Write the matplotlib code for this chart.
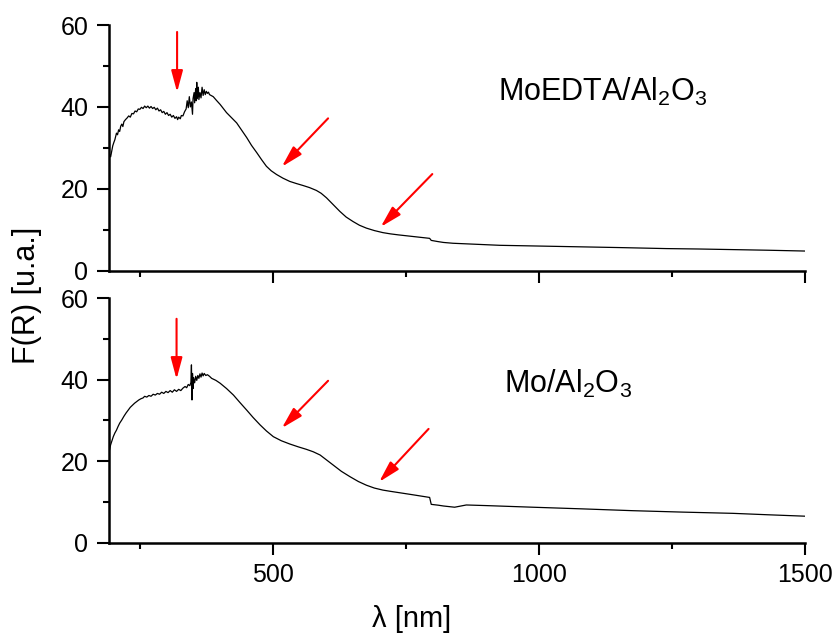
import matplotlib
matplotlib.use("Agg")
import matplotlib.pyplot as plt

plt.rcParams['font.family'] = ['Liberation Sans', 'DejaVu Sans']
plt.rcParams['mathtext.fontset'] = 'custom'
plt.rcParams['mathtext.rm'] = 'Liberation Sans'
plt.rcParams['mathtext.default'] = 'regular'

# ---------------- data ----------------
x_top = [190, 192, 194, 196, 198, 200, 202, 205, 207, 209, 211, 213, 215, 217, 219,
         222, 225, 228, 231, 234, 237, 240, 243, 246, 249, 252, 255, 258, 261, 264,
         267, 270, 273, 276, 279, 282, 285, 288, 291, 294, 297, 300, 303, 306, 309,
         312, 315, 318, 320, 322, 325, 327, 330, 333, 336, 338, 340, 342, 344, 346,
         348, 349, 351, 352, 354, 355, 356, 357, 359, 360, 362, 364, 366, 368, 370,
         372, 374, 376, 378, 380, 387, 393, 400, 406, 412, 421, 431, 440, 450, 459,
         469, 478, 487, 496, 506, 518, 531, 543, 556, 568, 581, 590, 600, 612, 625,
         637, 650, 662, 675, 690, 706, 720, 735, 760, 780, 794, 797, 810, 820, 838,
         880, 926, 990, 1051, 1150, 1239, 1300, 1364, 1430, 1500]
y_top = [26.5, 28.5, 27.8, 29.2, 30.5, 31.3, 32.0, 33.6, 33.2, 34.4, 34.0, 35.3, 35.8, 35.2, 36.4,
         36.9, 37.3, 37.8, 37.5, 38.4, 38.3, 39.0, 38.8, 39.5, 39.4, 39.9, 39.6, 40.2, 39.8, 40.2,
         39.7, 40.1, 39.6, 39.9, 39.3, 39.7, 39.0, 39.3, 38.6, 38.9, 38.2, 38.6, 37.9, 38.2, 37.5,
         37.9, 37.2, 37.6, 36.9, 37.5, 37.1, 37.9, 37.8, 38.8, 39.5, 41.5, 39.8, 42.5, 40.0, 41.2,
         38.2, 42.0, 43.5, 41.0, 44.5, 41.5, 46.0, 42.0, 44.8, 41.8, 43.5, 42.2, 44.8, 42.8, 44.2,
         43.0, 43.8, 43.3, 43.6, 43.0, 42.5, 41.6, 40.6, 39.6, 38.6, 37.4, 36.1, 34.4, 32.5, 30.6,
         28.8, 27.1, 25.5, 24.4, 23.5, 22.6, 21.8, 21.3, 20.8, 20.3, 19.6, 18.9, 17.8, 16.2, 14.5,
         13.1, 12.0, 11.1, 10.4, 9.8, 9.3, 9.0, 8.75, 8.4, 8.1, 7.9, 7.4, 7.1, 6.9, 6.7,
         6.45, 6.2, 6.05, 5.9, 5.65, 5.4, 5.3, 5.15, 5.0, 4.8]

x_bot = [190, 192, 194, 196, 199, 202, 205, 208, 211, 215, 219, 223, 227, 231, 235,
         239, 243, 247, 251, 255, 258, 262, 266, 270, 274, 278, 282, 286, 290, 294,
         298, 302, 306, 310, 314, 318, 322, 326, 330, 334, 337, 340, 343, 345, 346,
         347, 348, 349, 350, 352, 354, 356, 358, 360, 362, 364, 366, 368, 370, 373,
         376, 380, 384, 392, 400, 412, 425, 437, 450, 462, 475, 487, 500, 515, 531,
         547, 562, 575, 588, 600, 613, 628, 644, 660, 675, 690, 706, 720, 735, 760,
         794, 797, 810, 820, 841, 863, 900, 988, 1080, 1176, 1270, 1364, 1430, 1500]
y_bot = [21.5, 22.8, 24.0, 24.8, 26.0, 26.9, 27.6, 28.5, 29.3, 30.1, 31.0, 31.8, 32.5, 33.2, 33.7,
         34.2, 34.6, 35.0, 35.3, 35.5, 35.9, 35.7, 36.1, 35.9, 36.4, 36.2, 36.6, 36.4, 36.9, 36.6,
         37.1, 36.8, 37.3, 36.9, 37.5, 37.1, 37.6, 37.3, 37.9, 38.3, 38.0, 38.8, 38.5, 39.3, 43.6,
         35.0, 41.5, 37.8, 40.5, 39.2, 40.8, 39.8, 41.0, 40.3, 41.4, 40.6, 41.6, 40.9, 41.5, 41.0,
         41.2, 40.8, 40.3, 39.8, 39.1, 37.8, 36.2, 34.4, 32.5, 30.7, 28.9, 27.4, 26.0, 25.0, 24.2,
         23.5, 22.9, 22.3, 21.5, 20.3, 19.0, 17.5, 16.2, 15.0, 14.1, 13.4, 12.9, 12.6, 12.3, 11.8,
         11.1, 9.4, 9.2, 9.0, 8.7, 9.25, 9.1, 8.7, 8.3, 7.85, 7.5, 7.2, 6.85, 6.5]

labels = ['MoEDTA/Al$_2$O$_3$', 'Mo/Al$_2$O$_3$']
x_ticks = [500, 1000, 1500]
y_ticks = [0, 20, 40, 60]

# arrows: (tail_x, tail_y, tip_x, tip_y) in data units
arrows_top = [(319, 58.3, 319, 43.6), (603, 37.2, 516, 25.4), (799, 23.6, 702, 10.7)]
arrows_bot = [(318, 54.9, 318, 40.1), (603, 39.7, 516, 28.1), (792, 27.9, 699, 14.9)]

# ---------------- figure ----------------
fig = plt.figure(figsize=(8.35, 6.39), dpi=100)
W, H = 835, 639
left, right = 108.5 / W, 805 / W
ax_top = fig.add_axes([left, 1 - 270.7 / H, right - left, (270.7 - 25) / H])
ax_bot = fig.add_axes([left, 1 - 542.7 / H, right - left, (542.7 - 298) / H])

for ax, xs, ys, lab, arrs, lpos in [
        (ax_top, x_top, y_top, labels[0], arrows_top, (1119, 41.4)),
        (ax_bot, x_bot, y_bot, labels[1], arrows_bot, (1054, 36.7))]:
    ax.plot(xs, ys, color='black', lw=0.9)
    ax.set_xlim(190, 1500)
    ax.set_ylim(0, 60)
    ax.set_xticks(x_ticks)
    ax.set_xticks([250, 750, 1250], minor=True)
    ax.set_yticks(y_ticks)
    ax.set_yticks([10, 30, 50], minor=True)
    for s in ['top', 'right']:
        ax.spines[s].set_visible(False)
    for s in ['left', 'bottom']:
        ax.spines[s].set_linewidth(1.8)
    ax.tick_params(which='major', length=8.6, width=1.5, labelsize=18, pad=6)
    ax.tick_params(which='minor', length=4.3, width=1.5)
    ax.patch.set_visible(False)
    for (tx, ty, hx, hy) in arrs:
        ax.annotate('', xy=(hx, hy), xytext=(tx, ty),
                    arrowprops=dict(arrowstyle='-|>,head_length=1.3,head_width=0.35',
                                    color='red', lw=1.5, mutation_scale=10,
                                    shrinkA=0, shrinkB=0))
    ax.text(lpos[0], lpos[1], lab, fontsize=22, ha='center', va='baseline')

ax_top.tick_params(axis='x', labelbottom=False)

fig.text(412 / W, 1 - 619 / H, 'λ [nm]', fontsize=21, ha='center', va='center')
fig.text(27 / W, 1 - 295 / H, 'F(R) [u.a.]', fontsize=22, ha='center', va='center',
         rotation=90)

fig.savefig('out.png', dpi=100)
